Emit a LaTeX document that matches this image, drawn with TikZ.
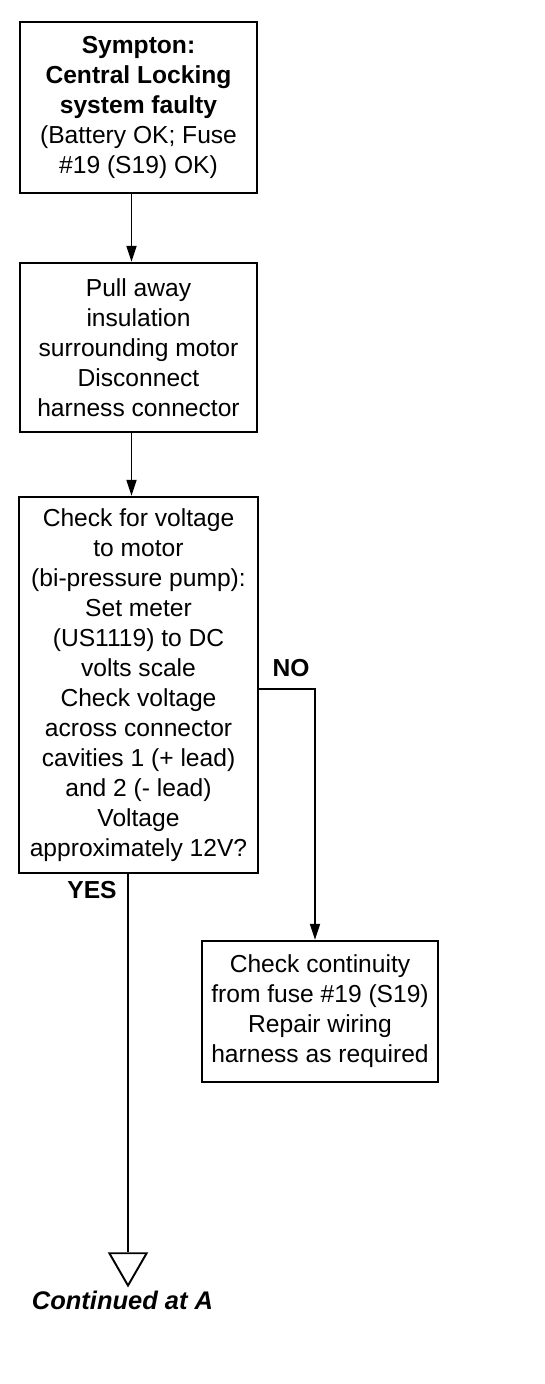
\documentclass[tikz,border=0pt]{standalone}
\usepackage{fontspec}
\setmainfont{Liberation Sans}
\usepackage{tikz}
\usetikzlibrary{arrows.meta,positioning,shapes.geometric}

\begin{document}
\begin{tikzpicture}[>={Triangle[length=0.32cm,width=0.2cm]},
  every node/.style={font=\fontsize{14}{17.1}\selectfont},
  box/.style={draw, line width=1.4pt, align=center, inner sep=1pt, minimum width=4.74cm},
  flow/.style={->, line width=1.1pt},
  tag/.style={font=\fontsize{14}{15}\selectfont\bfseries}]
  \useasboundingbox (0,0) rectangle (10.88,-27.68);

  \node[box, minimum height=3.42cm] (symptom) at (2.77,-2.15) {\textbf{Sympton:}\\ \textbf{Central Locking}\\ \textbf{system faulty}\\ (Battery OK; Fuse\\ \#19 (S19) OK)};
  \node[box, minimum height=3.38cm] (pull) at (2.77,-6.95) {Pull away\\ insulation\\ surrounding motor\\ Disconnect\\ harness connector};
  \node[box, minimum height=7.52cm, minimum width=4.78cm] (check) at (2.77,-13.7) {Check for voltage\\ to motor\\ (bi-pressure pump):\\ Set meter\\ (US1119) to DC\\ volts scale\\ Check voltage\\ across connector\\ cavities 1 (+ lead)\\ and 2 (- lead)\\ Voltage\\ approximately 12V?};
  \node[box, minimum height=2.82cm, minimum width=4.72cm] (repair) at (6.4,-20.23) {Check continuity\\ from fuse \#19 (S19)\\ Repair wiring\\ harness as required};
  \node[draw, line width=1.1pt, regular polygon, regular polygon sides=3, shape border rotate=180, minimum size=0.86cm, inner sep=0pt] (contA) at (2.56,-25.28) {};
  \node[font=\fontsize{14.5}{16}\selectfont\bfseries\itshape] (contlabel) at (2.45,-26.0) {Continued at A};

  \node[tag] (no) at (5.82,-13.36) {NO};
  \node[tag] (yes) at (1.84,-17.8) {YES};

  \draw[flow] ([xshift=-0.14cm]symptom.south) -- ([xshift=-0.14cm]pull.north);
  \draw[flow] ([xshift=-0.14cm]pull.south) -- ([xshift=-0.14cm]check.north);
  \draw[flow] ([yshift=-0.08cm]check.east) -| ([xshift=-0.1cm]repair.north);
  \draw[line width=1.1pt] (check.south -| contA.north) -- (contA.north);
\end{tikzpicture}
\end{document}
